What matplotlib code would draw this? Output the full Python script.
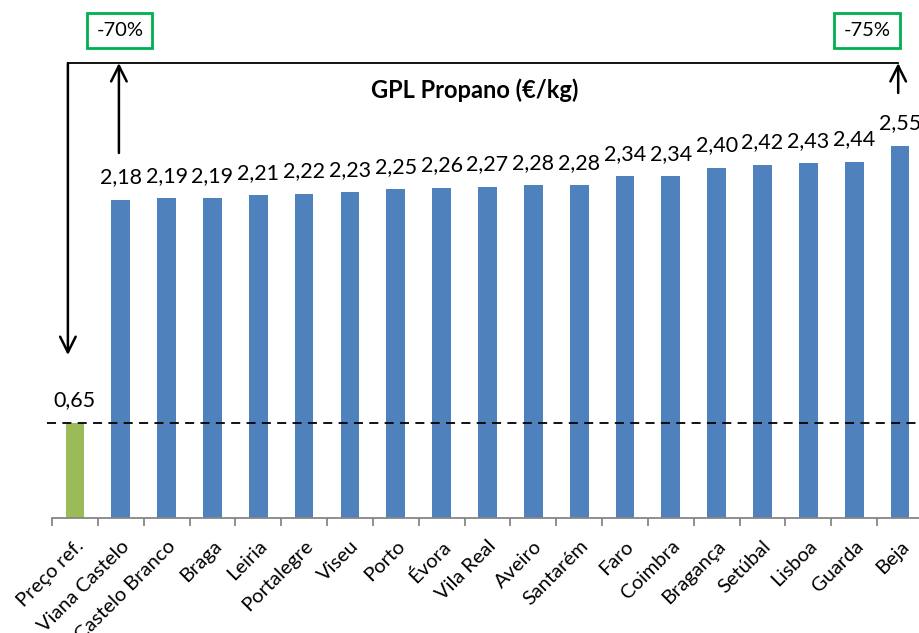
import matplotlib
matplotlib.use("Agg")
import matplotlib.pyplot as plt

plt.rcParams['font.family'] = ['Lato', 'DejaVu Sans']

regions = ['Preço ref.', 'Viana Castelo', 'Castelo Branco', 'Braga', 'Leiria',
           'Portalegre', 'Viseu', 'Porto', 'Évora', 'Vila Real', 'Aveiro',
           'Santarém', 'Faro', 'Coimbra', 'Bragança', 'Setúbal', 'Lisboa',
           'Guarda', 'Beja']
prices = [0.65, 2.18, 2.19, 2.19, 2.21, 2.22, 2.23, 2.25, 2.26, 2.27, 2.28,
          2.28, 2.34, 2.34, 2.40, 2.42, 2.43, 2.44, 2.55]
ref_price = 0.65
pct_low = "-70%"
pct_high = "-75%"

blue = "#4F81BD"
green = "#9BBB59"
colors = [green] + [blue] * (len(regions) - 1)

fig = plt.figure(figsize=(9.2, 6.33), dpi=100)
ax = fig.add_axes([0.0565, 0.1817, 0.9467, 0.8183])

x = range(len(regions))
bars = ax.bar(x, prices, width=0.41, color=colors)

for i, v in enumerate(prices):
    ax.annotate(f"{v:.2f}".replace(".", ","), (i, v), xytext=(0, 9),
                textcoords="offset points", ha="center", va="bottom",
                fontsize=15.5)

ax.plot([-0.61, len(regions) - 0.5], [ref_price, ref_price], color="black",
        linestyle=(0, (5, 3.5)), linewidth=1.3, clip_on=False)

ax.set_xlim(-0.5, len(regions) - 0.5)
ax.set_ylim(0, 3.548)

# ticks between categories, labels under bars
ax.set_xticks([i - 0.5 for i in range(len(regions) + 1)], minor=False)
ax.set_xticklabels([])
ax.set_xticks(list(x), minor=True)
ax.set_xticklabels(regions, minor=True, rotation=45, ha="right", va="top",
                   rotation_mode="anchor", fontsize=14.5)
ax.tick_params(axis="x", which="major", length=6, color="#868686", width=1.3)
ax.tick_params(axis="x", which="minor", length=0, pad=14)
ax.set_yticks([])
for s in ["top", "left", "right"]:
    ax.spines[s].set_visible(False)
ax.spines["bottom"].set_color("#868686")
ax.spines["bottom"].set_linewidth(1.3)

# bracket and arrows
y_top = 3.116
ax.plot([-0.153, 17.96], [y_top, y_top], color="black", lw=1.3, clip_on=False)
arrow = dict(arrowstyle="->", color="black", lw=1.8, mutation_scale=28,
             shrinkA=0, shrinkB=0)
ax.annotate("", xy=(-0.153, 1.116), xytext=(-0.153, y_top), arrowprops=arrow)
ax.annotate("", xy=(0.96, y_top), xytext=(0.96, 2.5), arrowprops=arrow)
ax.annotate("", xy=(17.96, y_top), xytext=(17.96, 2.911), arrowprops=arrow)

box = dict(boxstyle="square,pad=0.45", facecolor="white", edgecolor="#00B050",
           linewidth=2)
ax.text(0.98, 3.342, pct_low, ha="center", va="center", fontsize=14.5, bbox=box)
ax.text(17.28, 3.342, pct_high, ha="center", va="center", fontsize=14.5, bbox=box)

ax.text(8.72, 2.93, "GPL Propano (€/kg)", ha="center", va="center",
        fontsize=17, fontweight="bold")

fig.savefig("out.png", dpi=100)
